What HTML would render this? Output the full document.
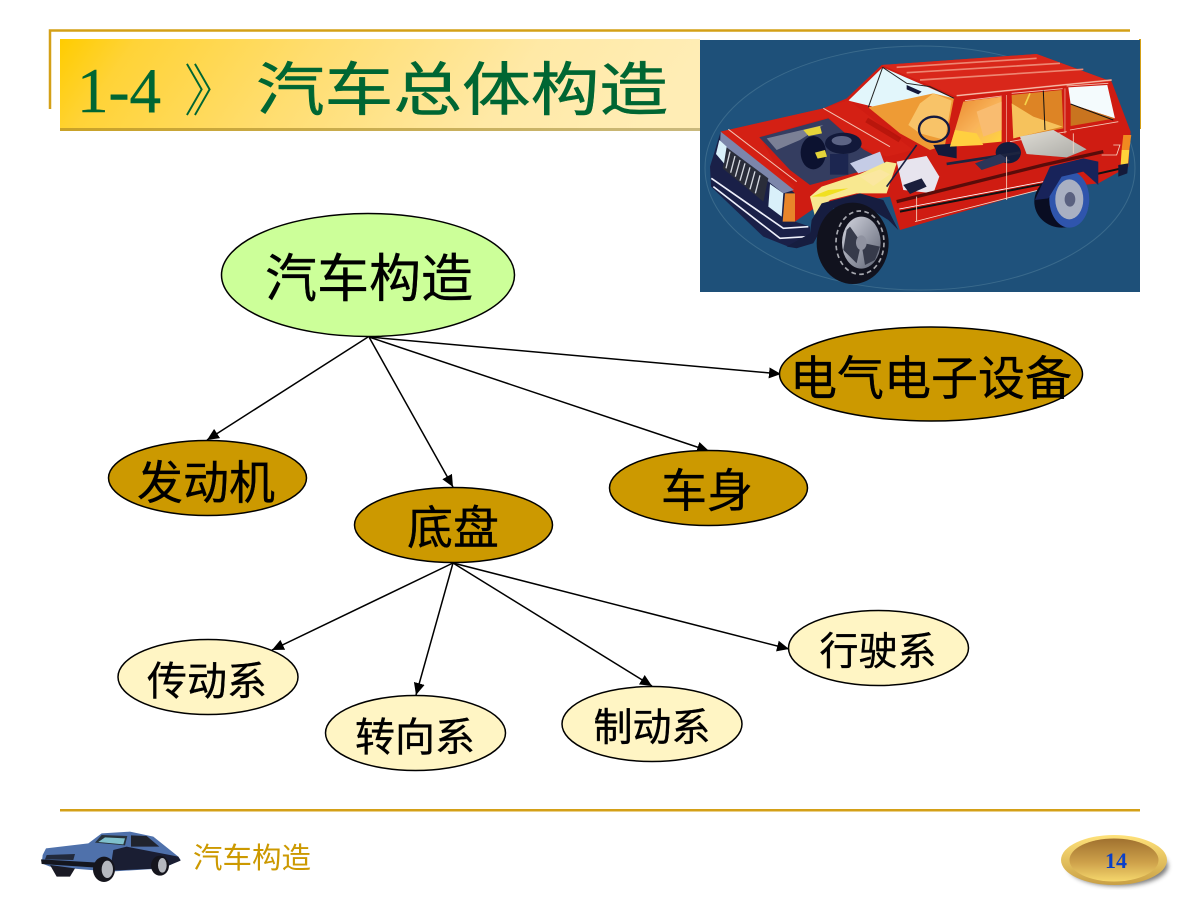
<!DOCTYPE html>
<html lang="zh"><head><meta charset="utf-8"><title>汽车总体构造</title>
<style>html,body{margin:0;padding:0;background:#fff}svg{display:block}
text{font-family:"Liberation Sans","WenQuanYi Zen Hei","Noto Sans CJK SC",sans-serif}</style></head>
<body>
<svg width="1200" height="900" viewBox="0 0 1200 900" xmlns="http://www.w3.org/2000/svg">
<defs>
<linearGradient id="tb" x1="0" y1="0" x2="1" y2="0.1"><stop offset="0" stop-color="#ffcc00"/><stop offset=".12" stop-color="#ffd337"/><stop offset=".4" stop-color="#ffdd6e"/><stop offset=".75" stop-color="#ffe9a6"/><stop offset="1" stop-color="#ffedb5"/></linearGradient>
<linearGradient id="tbb" x1="0" y1="0" x2="1" y2="0"><stop offset="0" stop-color="#c9a227"/><stop offset="1" stop-color="#c9b97e"/></linearGradient>
<linearGradient id="coin" x1="0" y1="0" x2="0" y2="1"><stop offset="0" stop-color="#a0712f"/><stop offset=".55" stop-color="#cda04a"/><stop offset="1" stop-color="#f5d76c"/></linearGradient>
<linearGradient id="rim" x1="0" y1="0" x2="0" y2="1"><stop offset="0" stop-color="#ffe27a"/><stop offset="1" stop-color="#c9a045"/></linearGradient>
<linearGradient id="seat" x1="0" y1="0" x2="1" y2="1"><stop offset="0" stop-color="#e8862a"/><stop offset=".55" stop-color="#f9b45a"/><stop offset="1" stop-color="#ffd83c"/></linearGradient>
<linearGradient id="hub" x1="0" y1="0" x2="1" y2="1"><stop offset="0" stop-color="#d4d6e0"/><stop offset="1" stop-color="#5e6373"/></linearGradient>
<filter id="b"><feGaussianBlur stdDeviation="2.500"/></filter>
<filter id="b2"><feGaussianBlur stdDeviation="5"/></filter>
<marker id="a" markerWidth="14" markerHeight="12" refX="12" refY="5.500" orient="auto" markerUnits="userSpaceOnUse"><path d="M0 0L12 5.500L0 11z" fill="#000"/></marker>
</defs>

<!-- title frame -->
<path d="M1130 30.500H50V109" fill="none" stroke="#d4a017" stroke-width="2.500"/>
<rect x="60" y="39" width="640" height="92" fill="url(#tb)"/>
<rect x="60" y="128" width="640" height="3" fill="url(#tbb)"/>
<text x="77" y="112" font-size="63" fill="#006633" style="font-family:'Liberation Serif',serif;stroke:#006633;stroke-width:.4">1-4</text>
<text x="184" y="111" font-size="56" fill="#006633" style="font-family:'Liberation Serif','Noto Serif CJK SC',serif">》</text>
<text x="256" y="110" font-size="58" fill="#006633" stroke="#006633" stroke-width=".5" textLength="412" lengthAdjust="spacingAndGlyphs">汽车总体构造</text>

<!-- car picture -->
<rect x="1139" y="39" width="2" height="90" fill="#d4a017"/>
<rect x="700" y="40" width="440" height="252" fill="#1e5079"/>
<ellipse cx="920" cy="168" rx="215" ry="122" fill="#1f527c" stroke="#3a6a8c" stroke-width="1"/>
<g transform="translate(700,30) scale(.3333)">
<!-- body -->
<path d="M62 305L370 235L440 205L545 105L1010 72L1235 155L1292 305L1285 410L1195 460L1010 480L600 600L570 500L350 530L285 575L250 575L180 450z" fill="#cf1c12"/>
<path d="M545 105L1010 72L1235 155L770 200z" fill="#d9271a"/>
<path d="M590 112L1010 85M620 128L1080 100M660 150L1150 118M770 197L1235 150" stroke="#ee8672" stroke-width="5" fill="none"/>
<path d="M770 197L1235 150M795 212L905 198M935 190L1088 176M1100 168L1225 160" stroke="#f5c4b4" stroke-width="2.500" fill="none"/>
<!-- windshield and interior -->
<path d="M445 212L548 112L762 205L700 300L560 240z" fill="#e2f6fb"/>
<path d="M505 232L700 190L762 205L735 345L690 360L600 310z" fill="#ee9b35"/>
<path d="M625 285L660 220L700 190L755 212L735 330L660 310z" fill="#f8c368"/>
<path d="M548 112L620 160L690 170L762 205" fill="none" stroke="#222" stroke-width="3"/>
<path d="M548 112L505 232" stroke="#222" stroke-width="3"/>
<path d="M620 165l45 20-10 8-35-15z" fill="#14183a"/>
<ellipse cx="702" cy="298" rx="45" ry="38" fill="none" stroke="#141a40" stroke-width="7"/>
<path d="M700 345L770 340V385L715 375z" fill="#14193a"/>
<!-- windows -->
<path d="M790 215L905 200V335L750 350z" fill="url(#seat)"/>
<path d="M830 245L905 215V300L850 320z" fill="#f9bc70"/>
<path d="M765 300L830 310L850 345L750 350z" fill="#ffd040"/>
<path d="M935 195L1085 180L1090 295L940 325z" fill="#dd8425"/>
<path d="M935 220L1000 260L1088 290L940 325z" fill="#f6c25c"/>
<path d="M1030 182L1035 300" stroke="#111" stroke-width="3"/>
<path d="M990 190L975 225" stroke="#f4d24a" stroke-width="5"/>
<path d="M1105 172L1222 165L1245 265L1112 222z" fill="#f4fbfd"/>
<path d="M1112 222L1245 265L1112 288z" fill="#c9741f"/>
<path d="M1112 222L1240 270" stroke="#111" stroke-width="3"/>
<path d="M920 195V340M1095 175V310" stroke="#f4b9a6" stroke-width="2"/>
<path d="M1110 300L1255 275M930 335L1100 305" stroke="#f6c8b5" stroke-width="2.500"/>
<!-- hood -->
<path d="M62 305L370 235L445 210L600 330L640 360L560 380L480 350L385 262L180 320L240 430L285 470L270 490z" fill="#d42014"/>
<path d="M85 298L290 455M370 235L570 350" stroke="#f4c4b4" stroke-width="3" fill="none"/>
<path d="M500 270L600 330" stroke="#a81008" stroke-width="16" opacity=".6"/>
<!-- engine bay -->
<path d="M178 322L385 265L490 358L530 380L560 400L480 425L330 465L270 420z" fill="#343d60"/>
<path d="M200 325L370 285L300 330L230 360z" fill="#7b8095"/>
<ellipse cx="430" cy="340" rx="55" ry="32" fill="#12193a"/><ellipse cx="425" cy="332" rx="30" ry="14" fill="#5c6485"/>
<ellipse cx="340" cy="368" rx="38" ry="50" fill="#0c1230"/>
<rect x="390" y="372" width="55" height="62" fill="#1c2650"/>
<path d="M310 300l50-12 6 22-40 8zM345 368l30-8 6 20-28 6z" fill="#e5d43a"/>
<path d="M450 400l90-35 15 40-80 25z" fill="#c5cce6"/>
<!-- fender, firewall -->
<path d="M330 500L365 470L480 432L560 395L590 400L560 490L470 490L390 510L345 560z" fill="#f8e890"/>
<path d="M335 500l50-20 60-5-70 25z" fill="#f0e020"/>
<path d="M590 395L680 378L718 440L700 490L610 480z" fill="#e7e4ee"/>
<path d="M610 465l55-20 15 25-50 22z" fill="#1a1e3c"/>
<path d="M560 470L650 345" stroke="#1b2140" stroke-width="5"/>
<path d="M480 440l60-22 30 15-50 35z" fill="#fbe7a0"/>
<!-- chassis and tank -->
<path d="M960 320L1060 300L1160 358L1100 382L980 372z" fill="url(#hub)"/>
<path d="M960 320L1060 300L1160 358L1100 382L980 372z" fill="#e8e2cc" opacity=".55"/>
<ellipse cx="925" cy="368" rx="38" ry="32" fill="#141c3c"/>
<path d="M740 402L960 368" stroke="#1d2440" stroke-width="8"/>
<path d="M825 400L900 372L930 392L845 420z" fill="#2b3558"/>
<path d="M590 515L1030 405L1210 365" stroke="#5a0c0a" stroke-width="10" fill="none"/>
<path d="M600 545L1030 462M1190 432L1265 415" stroke="#111" stroke-width="6"/>
<path d="M598 537L1030 455" stroke="#fff" stroke-width="2.500"/>
<path d="M645 575L1025 478M650 500V575M920 380V510M1120 310V370M1240 345H1260L1250 375H1205" stroke="#f6d6c4" stroke-width="2.500" fill="none"/>
<path d="M1270 315H1294L1288 360H1265z" fill="#f08a20"/>
<path d="M1265 360H1288L1284 405H1262z" fill="#ffd23a"/>
<path d="M1255 405L1285 400L1282 430L1255 440z" fill="#141a3a"/>
<!-- front end -->
<path d="M62 305L250 460L285 490L285 575L330 590V612L265 650L190 620L33 470L30 410z" fill="#1a2048"/>
<path d="M62 305L282 480L250 490L60 340z" fill="#7c86ab"/>
<path d="M80 352L205 445L190 515L68 415z" fill="#2a2d3a"/>
<g stroke="#d5d8e0" stroke-width="4"><path d="M90 365L78 415M105 378L92 428M120 390L106 440M135 400L120 452M150 412L135 465M165 424L150 478M180 436L166 490"/></g>
<path d="M58 330L80 350L72 400L48 372zM210 462L250 490L245 560L205 530z" fill="#d9f0fa"/>
<path d="M255 490L285 490V575L248 575z" fill="#e8852a"/>
<path d="M34 445L250 595L325 590M40 470L240 625L320 620" stroke="#eef0fb" stroke-width="5" fill="none"/>
<!-- front wheel -->
<path d="M335 570L365 520L480 490L550 510L595 600L565 570L500 530L400 535L340 640L290 655L260 650L330 610z" fill="#161d40"/>
<ellipse cx="458" cy="640" rx="108" ry="122" fill="#11121e"/>
<ellipse cx="480" cy="638" rx="72" ry="95" fill="none" stroke="#d9dbe0" stroke-width="5" stroke-dasharray="14 10" opacity=".75"/>
<ellipse cx="484" cy="638" rx="58" ry="78" fill="url(#hub)"/>
<path d="M484 638L450 590L440 600L430 660L470 700zM484 638L540 650L525 690L495 705z" fill="#363a4a"/>
<ellipse cx="484" cy="638" rx="16" ry="22" fill="#8f92a0"/>
<!-- rear wheel -->
<ellipse cx="1085" cy="515" rx="82" ry="78" fill="#090d22"/>
<ellipse cx="1108" cy="508" rx="60" ry="85" fill="#2f55ad"/>
<ellipse cx="1108" cy="508" rx="42" ry="60" fill="#a9b0c2"/>
<ellipse cx="1110" cy="508" rx="16" ry="22" fill="#5a6180"/>
<path d="M1005 510L1050 410L1150 385L1195 395L1195 465L1150 425L1085 440L1045 505z" fill="#18235a"/>
</g>

<!-- connectors -->
<g stroke="#000" stroke-width="1.500" fill="none" marker-end="url(#a)">
<line x1="368" y1="337" x2="207" y2="440"/>
<line x1="369" y1="337" x2="453" y2="487"/>
<line x1="369" y1="337" x2="709" y2="451"/>
<line x1="369" y1="337" x2="781" y2="374"/>
<line x1="453" y1="563" x2="272" y2="650"/>
<line x1="453" y1="563" x2="416" y2="695"/>
<line x1="453" y1="563" x2="652" y2="686"/>
<line x1="453" y1="563" x2="789" y2="649"/>
</g>

<!-- nodes -->
<g stroke="#000" stroke-width="1.500">
<ellipse cx="368" cy="275" rx="146.500" ry="61.500" fill="#ccff99"/>
<ellipse cx="931" cy="374" rx="151.500" ry="47" fill="#cc9900"/>
<ellipse cx="207.500" cy="478" rx="99" ry="37.500" fill="#cc9900"/>
<ellipse cx="708.500" cy="488" rx="99" ry="37.500" fill="#cc9900"/>
<ellipse cx="453.500" cy="525" rx="99" ry="37.500" fill="#cc9900"/>
<ellipse cx="208" cy="677" rx="90" ry="37.500" fill="#fff5c4"/>
<ellipse cx="415.500" cy="733" rx="90" ry="37.500" fill="#fff5c4"/>
<ellipse cx="652" cy="724" rx="90" ry="37.500" fill="#fff5c4"/>
<ellipse cx="878.500" cy="648" rx="90" ry="37.500" fill="#fff5c4"/>
</g>
<g fill="#000" stroke="#000" stroke-width=".35" text-anchor="middle">
<text x="369" y="297" font-size="52">汽车构造</text>
<text x="931" y="395" font-size="47">电气电子设备</text>
<text x="206" y="499" font-size="46">发动机</text>
<text x="707" y="507" font-size="46">车身</text>
<text x="453" y="544" font-size="46">底盘</text>
<text x="207" y="695" font-size="40">传动系</text>
<text x="415" y="751" font-size="40">转向系</text>
<text x="652" y="741" font-size="39">制动系</text>
<text x="878" y="665" font-size="39">行驶系</text>
</g>

<!-- footer -->
<rect x="60" y="809" width="1080" height="2.500" fill="#d4a017"/>
<g transform="translate(30,800) scale(.3333)">
<path d="M38 165L48 145L175 130L215 100L300 95L370 110L445 170L452 180L400 205L240 215L60 200L35 190z" fill="#4f71ab"/>
<path d="M250 150L290 140L445 170L452 182L395 205L240 212z" fill="#1a1e33"/>
<path d="M195 128L215 105L292 108L285 136z" fill="#27323a"/>
<path d="M205 126L225 112L285 115L280 133z" fill="#7fc0cc"/>
<path d="M303 106L350 108L388 140H303z" fill="#20242e"/>
<path d="M50 165L135 162L130 180L45 178z" fill="#222a3c"/>
<path d="M33 178L205 188L200 203L35 192z" fill="#14161f"/>
<path d="M60 195L135 205L120 230H80z" fill="#1a1a24"/>
<ellipse cx="222" cy="208" rx="33" ry="38" fill="#15151d"/><ellipse cx="232" cy="208" rx="17" ry="26" fill="#b5b8bf"/>
<ellipse cx="390" cy="197" rx="27" ry="30" fill="#15151d"/><ellipse cx="397" cy="196" rx="13" ry="22" fill="#b5b8bf"/>
</g>
<text x="193" y="868" font-size="29" fill="#cc9900" textLength="118" lengthAdjust="spacingAndGlyphs">汽车构造</text>

<!-- page number -->
<ellipse cx="1118" cy="866" rx="50" ry="20" fill="#444" opacity=".7" filter="url(#b)"/>
<ellipse cx="1114" cy="860" rx="53" ry="25" fill="url(#rim)"/>
<ellipse cx="1114" cy="860" rx="44.500" ry="21.500" fill="url(#coin)"/>
<text x="1116" y="868" font-size="22" font-weight="700" fill="#0a3fc8" text-anchor="middle" style="font-family:'Liberation Serif',serif">14</text>
</svg>
</body></html>
